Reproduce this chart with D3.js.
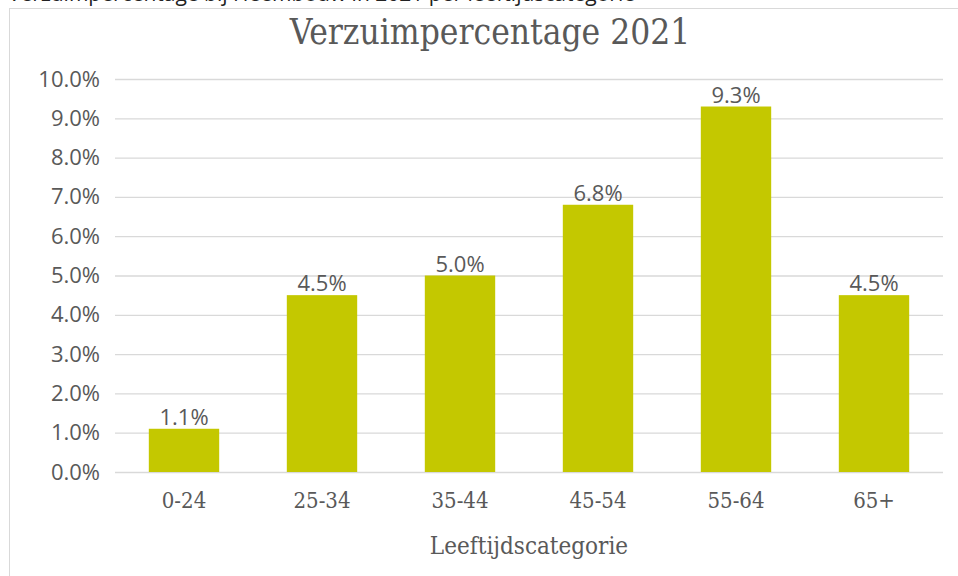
<!DOCTYPE html>
<html lang="en">
<head>
    <meta charset="UTF-8">
    <title>Verzuimpercentage 2021</title>
    <style>
        body { margin: 0; background: #fff; }
        svg { display: block; }
    </style>
</head>
<body>
    <div class="canvas"></div>

    <script src="https://cdnjs.cloudflare.com/ajax/libs/d3/7.8.5/d3.min.js"></script>
    <script>
        const categories = ["0-24", "25-34", "35-44", "45-54", "55-64", "65+"];
        const values = [1.1, 4.5, 5.0, 6.8, 9.3, 4.5];
        const yTicks = [0, 1, 2, 3, 4, 5, 6, 7, 8, 9, 10];

        const width = 958, height = 576;
        const margin = { top: 79, right: 15, bottom: 104, left: 115 };

        const svg = d3.select(".canvas").append("svg")
            .attr("width", width)
            .attr("height", height);

        // caption of the page, mostly cut off at the top
        svg.append("text")
            .attr("x", 8)
            .attr("y", 1)
            .attr("font-family", "Open Sans")
            .attr("font-size", 21)
            .attr("fill", "#222")
            .text("Verzuimpercentage bij Heembouw in 2021 per leeftijdscategorie");

        // chart frame
        svg.append("rect")
            .attr("x", 9.5)
            .attr("y", 8.5)
            .attr("width", width)
            .attr("height", height)
            .attr("fill", "#fff")
            .attr("stroke", "#d9d9d9");

        const x = d3.scaleBand()
            .domain(categories)
            .range([margin.left, width - margin.right])
            .paddingInner(0.49)
            .paddingOuter(0.245);

        const y = d3.scaleLinear()
            .domain([0, 10])
            .range([height - margin.bottom, margin.top]);

        const grid = svg.append("g")
            .attr("transform", `translate(${margin.left},0)`)
            .call(d3.axisLeft(y)
                .tickValues(yTicks)
                .tickSize(-(width - margin.left - margin.right))
                .tickFormat(d => d.toFixed(1) + "%"));
        grid.select(".domain").remove();
        grid.selectAll(".tick line")
            .attr("stroke", "#d9d9d9")
            .attr("stroke-width", 1.3);
        grid.selectAll(".tick text")
            .attr("x", -15)
            .attr("fill", "#595959")
            .attr("font-family", "Open Sans")
            .attr("font-size", 22);

        svg.selectAll("rect.bar")
            .data(values)
            .join("rect")
                .attr("class", "bar")
                .attr("x", (d, i) => x(categories[i]))
                .attr("y", d => y(d))
                .attr("width", x.bandwidth())
                .attr("height", d => y(0) - y(d))
                .attr("fill", "#c4c800");

        svg.selectAll("text.label")
            .data(values)
            .join("text")
                .attr("class", "label")
                .attr("x", (d, i) => x(categories[i]) + x.bandwidth() / 2)
                .attr("y", d => y(d) - 4)
                .attr("text-anchor", "middle")
                .attr("fill", "#595959")
                .attr("font-family", "Open Sans")
                .attr("font-size", 22)
                .text(d => d.toFixed(1) + "%");

        const xAxis = svg.append("g")
            .attr("transform", `translate(0,${y(0)})`)
            .call(d3.axisBottom(x).tickSize(0).tickPadding(20));
        xAxis.select(".domain").remove();
        xAxis.selectAll(".tick text")
            .attr("fill", "#595959")
            .attr("font-family", "DejaVu Serif Condensed")
            .attr("font-size", 22);

        svg.append("text")
            .attr("x", (margin.left + width - margin.right) / 2)
            .attr("y", 554)
            .attr("text-anchor", "middle")
            .attr("fill", "#595959")
            .attr("font-family", "DejaVu Serif Condensed")
            .attr("font-size", 24)
            .text("Leeftijdscategorie");

        svg.append("text")
            .attr("x", 490)
            .attr("y", 44)
            .attr("text-anchor", "middle")
            .attr("fill", "#595959")
            .attr("font-family", "DejaVu Serif Condensed")
            .attr("font-size", 35)
            .text("Verzuimpercentage 2021");
    </script>
</body>
</html>
